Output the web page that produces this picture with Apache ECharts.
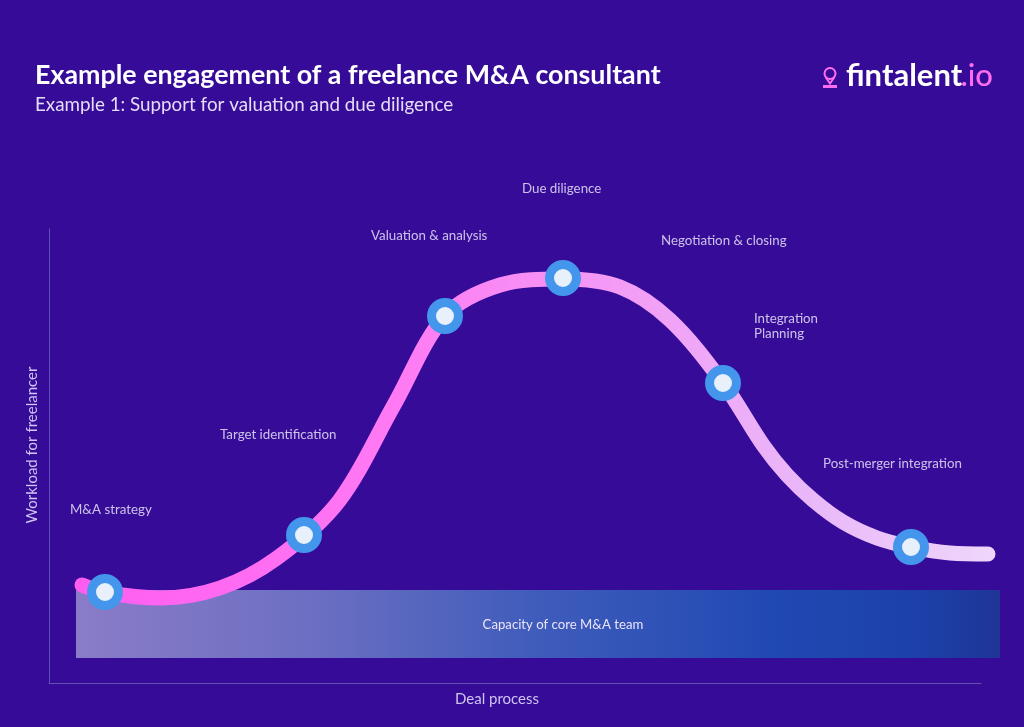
<!DOCTYPE html>
<html>
<head>
<meta charset="utf-8">
<style>html,body{margin:0;padding:0;background:#350b98}#c{width:1024px;height:727px}</style>
<script src="https://cdn.jsdelivr.net/npm/echarts@6/dist/echarts.min.js"></script>
</head>
<body>
<div id="c"></div>
<script>
// Values (axis units: deal progress 0-975, workload 0-454)
var curveProgress = [33,56,111,171,228,290,345,396,451,514,571,621,674,714,738,764,794,828,862,901,939];
var curveWorkload = [98,90.5,85,95,125,182,278,367,398,404,396,363,300,238,208,183,161,145,136,130,129];
var stageProgress = [56,255,396,514,674,862];
var stageWorkload = [91,148,367,405,300,136];
var labelTexts = ['M&A strategy','Target identification','Valuation & analysis','Due diligence','Negotiation & closing','Integration\nPlanning','Post-merger integration'];
var labelProgress = [21,171,322,473,612,705,774];
var labelWorkload = [173,248,447,494,442,357,219];
var capacityFrom = [27,25];
var capacityTo = [951,93];
var capacityLabel = 'Capacity of core M&A team';

var chart = echarts.init(document.getElementById('c'));
var font = 'Lato';
function zip(a,b){return a.map(function(v,i){return [v,b[i]];});}
var axisBase = {axisLine:{show:true,lineStyle:{color:'#6350b4',width:1}},axisTick:{show:false},axisLabel:{show:false},splitLine:{show:false}};
var nameStyle = {color:'#cfc4f2',fontFamily:font,fontSize:15};
chart.setOption({
  animation:false,
  backgroundColor:'#350b98',
  title:{
    left:30, top:57,
    text:'Example engagement of a freelance M&A consultant',
    subtext:'Example 1: Support for valuation and due diligence',
    itemGap:6,
    textStyle:{color:'#ffffff',fontFamily:font,fontSize:26.8,fontWeight:700},
    subtextStyle:{color:'#e6dcf8',fontFamily:font,fontSize:18.8,fontWeight:400}
  },
  grid:[
    {left:49,right:0,top:229,bottom:44},
    {left:49,right:43,top:229,bottom:44}
  ],
  xAxis:[
    {gridIndex:0,type:'value',min:0,max:975,show:false},
    Object.assign({gridIndex:1,type:'value',min:0,max:932,name:'Deal process',nameLocation:'middle',nameGap:9,
      nameTextStyle:Object.assign({padding:[0,36,0,0]},nameStyle)},axisBase)
  ],
  yAxis:[
    {gridIndex:0,type:'value',min:0,max:454,show:false},
    Object.assign({gridIndex:1,type:'value',min:0,max:454,name:'Workload for freelancer',nameLocation:'middle',nameGap:9,
      nameTextStyle:Object.assign({padding:[0,0,0,22]},nameStyle)},axisBase)
  ],
  series:[
    {type:'line',name:'Workload',z:3,smooth:0.33,symbol:'none',clip:false,xAxisIndex:0,yAxisIndex:0,
      data:zip(curveProgress,curveWorkload),
      lineStyle:{width:15,cap:'round',join:'round',
        color:{type:'linear',x:0,y:0,x2:1,y2:0,colorStops:[
          {offset:0,color:'#ff5cf0'},{offset:0.35,color:'#ff7af4'},{offset:0.55,color:'#f596f5'},{offset:0.8,color:'#e9b8f9'},{offset:1,color:'#efd6fb'}]}},
      markArea:{silent:true,z:1,
        label:{show:true,position:'inside',offset:[25,1],color:'#eae4fb',fontFamily:font,fontSize:13.2},
        itemStyle:{color:{type:'linear',x:0,y:0,x2:1,y2:0,colorStops:[
          {offset:0,color:'#8a7cc8'},{offset:0.25,color:'#6d6fc2'},{offset:0.5,color:'#3f5cbb'},{offset:0.75,color:'#2149b3'},{offset:0.92,color:'#1c40a8'},{offset:1,color:'#1e3596'}]}},
        data:[[{name:capacityLabel,coord:capacityFrom},{coord:capacityTo}]]}
    },
    {type:'scatter',name:'Stages',z:5,symbolSize:27,clip:false,xAxisIndex:0,yAxisIndex:0,
      data:zip(stageProgress,stageWorkload),
      itemStyle:{color:'#e8f0fb',borderColor:'#4495ec',borderWidth:9,opacity:1}},
    {type:'scatter',name:'Labels',z:6,symbolSize:0,clip:false,silent:true,xAxisIndex:0,yAxisIndex:0,
      data:labelTexts.map(function(t,i){return {name:t,value:[labelProgress[i],labelWorkload[i]]};}),
      label:{show:true,position:'right',distance:0,formatter:'{b}',color:'#f2edfd',fontFamily:font,fontSize:13.3,lineHeight:15}}
  ],
  graphic:[
    {type:'text',left:846,top:60,style:{
      text:'fintalent',fill:'#ffffff',font:'700 31px '+font}},
    {type:'text',right:31,top:60,style:{
      text:'.io',fill:'#ff6cf0',font:'500 31px '+font}},
    {type:'circle',shape:{cx:830,cy:73.5,r:5.5},style:{fill:'none',stroke:'#ff6cf0',lineWidth:2}},
    {type:'polyline',shape:{points:[[825.5,77],[830,83.5],[834.5,77]]},style:{fill:'none',stroke:'#ff6cf0',lineWidth:2}},
    {type:'rect',shape:{x:823,y:85,width:14,height:3},style:{fill:'#ff6cf0'}}
  ]
});
</script>
</body>
</html>
